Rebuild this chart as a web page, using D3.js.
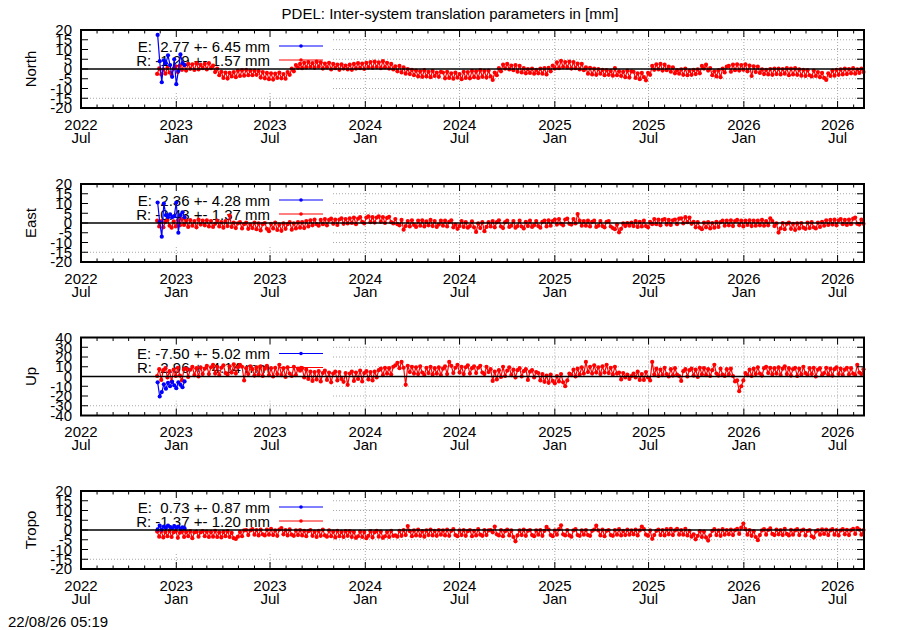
<!DOCTYPE html>
<meta charset="utf-8">

<!-- Load d3.js -->
<script src="https://d3js.org/d3.v7.min.js"></script>

<style>
  body { margin: 0; background: #fff; }
  svg text { font-family: "Liberation Sans", Arial, sans-serif; font-size: 15px; fill: #000; white-space: pre; }
</style>

<div id="my_dataviz"></div>

<script>
    // red series (R): one value every 4 days from redStart
    var redStart = new Date(2022, 10, 25);
    var blueStart = new Date(2022, 10, 26);
    var stepDays = 4;

    var northRed = [
      -2.5,0.3,-2.8,-0.2,-2.4,0.6,-1.8,-3.0,0.2,1.4,-1.6,1.8,-0.4,2.2,-0.8,2.6,0.1,2.4,-0.5,3.0,-0.2,2.1,0.4,
      2.6,-0.2,3.0,0.4,1.8,-1.6,0.2,-3.2,-1.4,-4.6,-1.8,-4.9,-2.0,-3.8,-1.6,-4.2,-0.8,-3.6,-0.6,-3.4,-0.4,-3.2,-0.8,
      -3.2,-0.8,-3.0,-1.0,-4.4,-1.6,-4.8,-2.0,-5.2,-2.2,-5.4,-2.4,-4.6,-1.8,-4.8,-2.6,-5.0,-1.6,-3.0,0.2,-1.2,2.0,0.6,
      2.6,0.4,3.2,0.8,3.6,1.0,3.0,0.6,3.8,1.2,3.4,0.2,2.8,0.8,3.2,-0.2,2.6,0.4,2.2,-0.4,2.4,0.2,1.8,
      -0.2,2.2,-0.4,2.6,0.2,3.0,0.4,2.8,0.0,3.2,0.8,3.6,0.6,3.8,1.0,3.4,0.4,4.0,0.8,3.2,0.2,2.6,-0.2,
      1.4,-1.2,1.6,-1.8,0.8,-2.4,0.0,-2.6,-0.4,-3.2,-0.8,-3.8,-1.2,-4.0,-0.6,-3.8,-1.4,-4.2,-1.0,-3.6,-1.8,-4.0,-1.4,
      -1.8,-4.8,-1.4,-4.6,-2.2,-5.0,-1.8,-4.4,-2.6,-5.2,-1.4,-4.6,-1.6,-4.8,-1.0,-4.2,-1.2,-4.6,-0.6,-4.0,-1.0,-4.4,-0.8,
      -3.8,-5.6,-1.8,-3.2,0.4,-1.2,2.2,0.2,2.6,-0.2,1.8,-0.6,2.0,-1.4,1.6,-1.8,0.4,-2.2,0.0,-2.0,0.2,-2.4,-0.4,
      -2.2,0.2,-2.4,0.4,-2.8,0.6,-1.2,1.8,0.2,3.4,0.4,4.2,1.0,3.6,0.8,3.8,0.2,3.6,0.4,2.8,-0.2,2.6,-0.6,
      0.8,-2.4,0.6,-2.8,0.2,-3.0,0.0,-2.4,-0.4,-3.2,-0.6,-3.0,-1.0,-3.4,0.4,-3.2,-1.2,-3.6,-1.4,-4.2,-0.8,-4.4,-1.2,
      -1.4,-4.6,-2.2,-5.2,-2.0,-4.2,-5.8,-2.0,-3.0,1.6,-0.4,2.4,-0.2,2.6,-0.8,2.2,-0.6,1.2,-1.4,0.8,-2.2,-0.6,-2.4,
      -0.2,-3.0,0.2,-3.2,-0.8,-3.0,-0.4,-2.6,-0.2,-2.2,1.6,0.2,2.2,-0.8,0.4,-3.2,-1.2,-3.8,-0.6,-4.2,0.2,-1.8,1.2,
      1.6,-1.4,2.2,-0.6,2.4,-0.8,2.0,-0.4,2.4,-1.2,1.8,-3.6,1.4,-1.6,1.2,-2.0,-0.2,-2.6,-0.4,-2.8,0.0,-3.0,0.2,
      -2.6,0.2,-2.8,0.0,-2.4,0.4,-3.2,0.2,-2.8,0.4,-3.0,-0.2,-3.4,-0.4,-3.6,-0.6,-3.2,-3.8,-0.8,-3.6,-1.6,-4.2,-2.0,
      -4.6,-5.6,-2.2,-3.6,-0.8,-3.4,-0.4,-3.0,-0.2,-2.8,0.2,-2.6,0.0,-2.2,0.4,-2.4,-0.2,-2.0,0.2,-1.6
    ];

    var eastRed = [
      1.2,-1.8,1.0,-2.2,0.6,1.6,-1.4,-2.4,0.8,-1.8,1.4,-1.2,2.0,-1.0,1.2,-2.0,1.5,-1.4,1.0,-2.2,1.8,-0.8,1.2,
      -1.2,1.4,-1.8,1.0,-2.0,-0.4,1.2,-1.8,0.4,-2.4,1.0,-1.6,3.8,-2.0,0.2,-2.6,-0.2,0.4,-2.8,-0.6,0.2,-3.0,-0.8,
      -2.6,0.2,-3.2,-0.2,-3.8,-0.6,0.0,-3.0,-4.2,-0.4,-2.8,0.2,-3.6,-0.8,-4.0,-0.2,-3.0,-0.6,0.4,-3.4,-0.2,-2.8,0.4,
      -2.4,0.4,-2.6,1.0,-1.8,1.4,-1.2,1.8,-0.6,-1.4,1.6,-0.6,2.0,-1.2,1.6,2.2,-0.4,1.8,-1.0,1.8,2.4,-0.4,2.0,
      -0.2,2.4,0.0,2.8,-0.6,2.2,3.0,0.6,-0.2,2.8,3.4,0.4,3.0,0.2,2.8,3.4,0.6,3.0,0.0,2.6,3.2,0.4,-0.2,
      2.0,-0.6,-1.2,1.6,-3.4,-1.6,1.0,-1.8,1.4,-1.0,-2.0,1.2,-1.4,1.4,-1.8,0.8,-1.2,1.6,-1.6,1.0,-2.0,-0.8,1.2,
      -1.4,1.2,-1.8,0.6,1.4,-2.2,-0.8,-3.0,-1.6,1.0,-2.0,0.4,-2.4,-1.6,0.8,-2.2,-4.6,-0.2,-2.6,0.4,-4.2,-2.0,0.4,
      -1.8,1.0,-2.2,0.4,1.4,-1.8,-2.6,0.4,1.2,-2.0,-1.4,1.0,-2.4,-1.6,1.2,-1.8,-2.8,0.6,-1.6,1.2,-2.0,-1.2,1.0,
      -1.6,-2.4,0.6,1.2,-1.8,1.4,-1.4,1.0,1.8,-0.8,2.0,-0.4,-1.2,1.8,2.2,-0.4,-0.8,2.0,-0.2,4.6,1.2,-1.4,1.0,
      -1.4,1.2,-1.8,0.6,1.2,-2.0,-1.4,1.0,-1.6,-2.2,0.6,1.0,-1.8,-2.6,-3.2,-0.8,-4.8,-3.0,-0.2,-1.6,0.0,-1.4,0.2,
      -1.6,1.0,-2.0,0.6,-1.8,1.2,-1.6,-2.2,0.6,-0.6,2.0,-0.6,1.8,-1.2,1.6,2.0,-0.8,1.6,-1.0,1.4,1.8,-0.6,2.2,
      2.4,-0.2,3.0,0.4,2.8,-0.4,0.6,-2.2,0.4,-2.4,-3.2,0.2,-2.2,0.4,-2.8,0.0,-2.4,0.6,-2.0,0.4,1.2,-1.4,1.2,
      -1.2,1.4,-1.6,1.0,1.6,-1.2,1.2,-1.8,1.2,-1.0,1.4,-1.6,1.2,-1.4,1.2,-1.2,1.6,-1.4,1.0,-1.2,2.4,1.0,-1.6,
      -0.2,-4.9,-2.8,0.0,-3.2,-0.4,0.2,-3.0,-0.4,-3.6,-0.2,-2.8,0.0,-2.4,-3.0,0.2,-2.6,0.4,-2.2,-2.8,0.2,-2.0,0.6,
      -1.4,1.4,-1.0,1.6,-0.8,1.8,-1.2,1.4,2.0,-0.6,1.6,-1.0,1.8,-0.6,2.2,2.8,-0.4,-0.8,1.8,-0.4
    ];

    var upRed = [
      0.5,7.5,-3.5,6.5,8.5,-1.0,5.5,-5.0,7.0,0.5,9.0,1.0,-4.0,7.5,8.0,-0.5,7.0,10.0,1.5,8.5,0.0,9.5,2.5,
      8.0,11.0,2.5,9.5,12.0,3.0,10.0,1.5,9.0,11.5,3.5,2.0,10.5,4.0,12.5,3.0,9.5,12.0,10.0,-4.0,8.5,2.5,10.5,
      7.5,1.0,9.5,2.0,10.5,0.5,8.0,11.0,1.5,8.5,0.0,9.0,2.5,12.0,1.5,8.5,-0.5,9.5,3.0,0.5,10.0,1.5,8.0,
      6.0,8.5,-1.0,7.0,-2.5,5.0,-4.5,4.5,-3.0,5.5,-5.0,3.5,6.0,-3.5,4.0,-6.0,3.0,5.0,-4.0,4.5,-2.5,-5.5,3.5,
      -8.5,3.0,5.0,-4.5,4.0,-2.5,6.0,-5.0,3.5,5.5,-3.0,4.5,-4.0,5.0,-1.0,6.5,8.0,1.5,9.0,3.0,8.5,2.0,10.0,
      11.5,14.0,8.5,15.0,9.0,-8.5,11.0,4.5,10.0,3.0,9.5,2.5,10.5,4.0,1.5,9.0,3.5,10.0,2.0,8.5,3.0,9.5,1.5,
      8.0,10.5,2.5,15.0,11.0,3.5,9.0,12.0,4.0,10.0,2.5,9.5,11.5,3.0,8.5,10.5,3.5,9.0,11.0,4.0,2.5,10.0,4.5,
      7.5,-4.5,5.0,-3.0,6.5,-0.5,10.0,0.5,6.0,9.5,1.5,7.0,-1.0,6.5,8.5,0.0,5.5,7.5,-3.5,5.0,6.5,-1.0,4.5,
      3.5,-4.0,2.5,-5.5,1.0,-6.5,2.0,-4.5,-7.0,0.5,-5.0,2.5,-6.0,-10.0,-4.0,3.0,1.5,7.0,0.0,8.0,2.0,9.5,3.0,
      15.0,4.5,10.0,3.0,11.5,4.0,9.5,2.5,10.5,4.0,12.0,3.5,9.0,2.0,10.0,3.0,4.0,-3.0,3.5,-1.0,2.0,-2.5,0.5,
      3.0,-1.0,5.0,-3.5,2.5,-3.5,4.5,-1.0,-4.0,15.0,2.0,8.0,0.5,7.0,1.5,9.0,2.5,0.0,7.5,1.0,8.5,2.0,0.5,
      -4.5,5.5,7.5,0.0,6.5,8.0,1.0,7.0,-0.5,9.0,2.0,8.5,1.5,7.5,0.5,6.5,12.0,3.0,1.0,8.0,2.0,0.5,7.5,
      2.0,8.0,0.5,-5.0,-4.0,-15.0,-10.0,-4.0,3.5,1.5,7.0,0.5,8.0,2.5,9.5,3.0,1.0,8.5,10.0,3.5,9.0,2.0,8.5,
      3.0,9.5,1.5,8.0,10.5,2.5,8.5,1.0,7.5,9.0,0.5,8.0,2.0,10.0,3.5,1.5,8.5,2.5,9.0,0.0,7.0,8.5,1.5,
      3.5,9.0,2.0,8.0,1.0,7.5,9.5,2.5,8.0,1.5,7.0,9.0,2.0,8.5,3.0,1.5,12.0,4.0,2.5,7.5
    ];

    var tropoRed = [
      -0.8,-3.4,-0.6,-3.8,-1.0,-3.2,-0.4,-3.6,-1.2,-0.6,-4.0,-1.4,-0.8,-3.6,-1.0,-3.2,-0.6,-4.2,-1.2,-0.8,-3.4,-1.2,-0.6,
      -3.2,-0.8,-3.6,-1.0,-3.4,-0.4,-3.6,-1.2,-3.8,-1.0,-3.2,-0.6,-3.6,-1.4,-4.2,-4.6,-3.4,-1.0,-3.2,-0.2,0.0,-2.6,-0.2,
      0.4,-2.4,0.0,-2.8,0.2,-2.2,-2.8,0.2,-2.4,0.6,-2.6,-0.2,-3.0,0.2,1.0,-2.2,-0.1,-2.8,0.3,-2.4,-3.0,-0.2,-2.6,
      0.0,-2.8,-0.4,-3.2,-0.6,0.0,-3.0,-0.8,-3.6,-0.4,-3.0,0.2,-2.8,-3.4,-0.2,-3.2,-0.8,-3.8,-0.4,-3.2,-1.0,-3.6,-0.6,
      -3.0,-0.6,-3.6,-1.0,-4.0,-3.2,-0.8,-3.6,-1.0,-4.2,-3.0,-0.6,-3.8,-1.2,-0.4,-3.4,-0.8,-4.0,-3.2,-1.0,-3.6,-0.4,-3.0,
      -2.8,-3.4,-0.4,-3.0,0.0,-2.6,2.0,-0.6,-3.2,-0.2,-2.8,0.2,-3.0,-0.6,-3.4,-0.2,-2.6,0.2,-2.8,-0.4,-3.0,0.0,-2.4,
      -0.2,-2.8,0.2,-3.0,-0.4,0.4,-2.6,-3.2,-0.2,-2.6,0.0,-3.0,-0.6,0.0,-3.2,-0.4,-2.8,0.4,-2.4,-3.0,0.0,-2.6,-0.2,
      0.0,-1.2,1.8,-2.2,-2.8,0.0,-3.2,-0.6,0.2,-2.8,-0.2,-3.6,-5.8,-2.8,-0.2,-2.6,0.2,-3.0,-0.4,0.0,-2.6,-3.2,-0.2,
      -2.4,0.0,-3.0,-0.4,1.6,0.2,-2.6,-3.2,-0.2,-2.4,0.4,2.4,-2.2,-2.8,0.0,-2.8,-3.4,-0.2,0.4,-2.6,-3.0,-0.2,-2.4,
      0.0,-2.6,-3.0,-0.4,0.2,2.2,-0.2,-2.8,0.2,-3.2,-0.4,0.0,-2.6,-3.0,0.0,-2.4,0.4,-2.8,-0.4,-2.6,0.2,-2.4,-0.2,
      -2.2,0.2,-2.8,-0.2,1.8,0.4,-2.4,-3.0,-0.2,-4.5,-2.6,-0.4,0.2,-2.6,0.0,-2.8,0.4,-2.2,0.6,-2.6,-0.2,0.6,-2.4,
      0.0,-2.4,0.6,-2.8,-0.4,-3.4,-2.2,-4.8,-3.0,-0.6,-3.6,-0.8,-3.8,-5.4,-2.8,-0.4,0.4,-2.6,-0.2,-3.0,0.4,-2.4,0.0,
      -2.2,0.2,-2.6,-0.1,0.6,-2.0,1.2,3.3,0.4,-2.4,0.0,-3.0,-0.6,-3.6,-5.2,-2.6,-0.2,0.4,-2.4,0.0,0.8,-2.0,-2.6,
      0.2,-2.2,-0.1,-2.6,0.6,-2.0,-2.8,0.1,-2.4,-0.2,0.4,-2.6,-0.3,0.2,-2.8,-0.4,-0.1,-3.2,-3.9,-0.8,0.0,-2.4,0.3,
      -2.0,0.2,-2.6,-0.2,0.4,-2.4,0.0,-2.8,-0.2,0.4,-2.2,0.1,-2.6,-0.1,0.6,-2.0,1.0,0.2,-2.4,0.0
    ];

    // blue series (E): one value every 4 days from blueStart
    var northBlue = [17.5, 4.0, -6.8, 4.5, 3.0, 7.0, 2.0, -4.0, 5.0, -7.8, -1.0, 7.5, 3.0, 2.0];
    var eastBlue = [10.5, 0.5, -7.0, 10.0, 4.0, 3.0, 4.5, 3.0, 3.5, 10.5, -5.0, 4.0, 5.5, 3.0];
    var upBlue = [-6.0, -20.5, -16.0, -8.0, -12.5, -6.5, -10.0, -5.5, -9.0, -12.0, -6.0, -8.5, -11.0, -5.0];
    var tropoBlue = [0.3, 2.2, 0.2, 1.8, 1.0, 2.3, 1.5, 0.9, 2.0, 1.2, 1.8, 0.6, 1.4, 0.8];

    var panelNames = ["North", "East", "Up", "Tropo"];
    var panelRed = [northRed, eastRed, upRed, tropoRed];
    var panelBlue = [northBlue, eastBlue, upBlue, tropoBlue];
    var panelRange = [20, 20, 40, 20];
    var panelStep = [5, 5, 10, 5];
    var keyE = ["E:  2.77 +- 6.45 mm", "E:  2.36 +- 4.28 mm", "E: -7.50 +- 5.02 mm", "E:  0.73 +- 0.87 mm"];
    var keyR = ["R: -1.29 +- 1.57 mm", "R: -0.43 +- 1.37 mm", "R:  2.96 +- 4.14 mm", "R: -1.37 +- 1.20 mm"];

    var titleText = "PDEL: Inter-system translation parameters in [mm]";
    var stampText = "22/08/26 05:19";

    // dimensions
    var W = 900, H = 630;
    var left = 81, right = 864, panelH = 78;
    var panelTop = [30, 184, 337.5, 491];

    var svg = d3.select("#my_dataviz")
      .append("svg")
        .attr("width", W)
        .attr("height", H);

    var x = d3.scaleTime()
        .domain([new Date(2022, 6, 1), new Date(2026, 7, 21)])
        .range([left, right]);

    var majorTicks = d3.timeMonth.every(6).range(new Date(2022, 6, 1), new Date(2026, 7, 22));
    var minorTicks = d3.timeMonth.range(new Date(2022, 6, 1), new Date(2026, 7, 22));

    function toDates(start, values) {
      return values.map(function(v, i) { return { date: d3.timeDay.offset(start, i * stepDays), v: v }; });
    }

    svg.append("text")
        .attr("x", W / 2)
        .attr("y", 19)
        .attr("text-anchor", "middle")
        .text(titleText);

    svg.append("text")
        .attr("x", 8)
        .attr("y", 627)
        .text(stampText);

    panelNames.forEach(function(name, p) {
      var top = panelTop[p], bottom = top + panelH;
      var y = d3.scaleLinear()
          .domain([-panelRange[p], panelRange[p]])
          .range([bottom, top]);
      var yTicks = d3.range(-panelRange[p], panelRange[p] + 0.001, panelStep[p]);
      var g = svg.append("g");

      // dotted grid
      g.selectAll(".hgrid")
        .data(yTicks.filter(function(d) { return d != 0 && Math.abs(d) != panelRange[p]; }))
        .enter().append("line")
          .attr("x1", left).attr("x2", right)
          .attr("y1", function(d) { return y(d); })
          .attr("y2", function(d) { return y(d); })
          .attr("stroke", "#a8a8a8")
          .attr("stroke-width", 1)
          .attr("stroke-dasharray", "1,2");

      g.selectAll(".vgrid")
        .data(majorTicks.filter(function(d) { return x(d) > left + 1; }))
        .enter().append("line")
          .attr("x1", function(d) { return x(d); })
          .attr("x2", function(d) { return x(d); })
          .attr("y1", top).attr("y2", bottom)
          .attr("stroke", "#a8a8a8")
          .attr("stroke-width", 1)
          .attr("stroke-dasharray", "1,2");

      // key box
      g.append("rect")
          .attr("x", left + 1).attr("y", top + 1)
          .attr("width", 250).attr("height", 62)
          .attr("fill", "#fff");

      var keyRows = [[keyE[p], "#0000ff", 16], [keyR[p], "#ff0000", 30]];
      keyRows.forEach(function(k) {
        g.append("text")
            .attr("x", 270)
            .attr("y", top + k[2] + 5.5)
            .attr("text-anchor", "end")
            .attr("xml:space", "preserve")
            .text(k[0]);
        g.append("line")
            .attr("x1", 279).attr("x2", 323)
            .attr("y1", top + k[2]).attr("y2", top + k[2])
            .attr("stroke", k[1]).attr("stroke-width", 1);
        g.append("circle")
            .attr("cx", 301).attr("cy", top + k[2])
            .attr("r", 1.8).attr("fill", k[1]);
      });

      // series
      var line = d3.line()
          .x(function(d) { return x(d.date); })
          .y(function(d) { return y(d.v); });

      [[toDates(redStart, panelRed[p]), "#ff0000"], [toDates(blueStart, panelBlue[p]), "#0000ff"]].forEach(function(s) {
        g.append("path")
            .datum(s[0])
            .attr("d", line)
            .attr("fill", "none")
            .attr("stroke", s[1])
            .attr("stroke-width", 1.2);
        g.selectAll(null)
            .data(s[0])
            .enter().append("circle")
              .attr("cx", function(d) { return x(d.date); })
              .attr("cy", function(d) { return y(d.v); })
              .attr("r", 2.1)
              .attr("fill", s[1]);
      });

      // zero line
      g.append("line")
          .attr("x1", left).attr("x2", right)
          .attr("y1", y(0)).attr("y2", y(0))
          .attr("stroke", "#000").attr("stroke-width", 1.4);

      // border
      g.append("rect")
          .attr("x", left).attr("y", top)
          .attr("width", right - left).attr("height", panelH)
          .attr("fill", "none")
          .attr("stroke", "#000").attr("stroke-width", 2);

      // y ticks, both sides
      yTicks.forEach(function(t) {
        g.append("line").attr("x1", left).attr("x2", left + 7)
            .attr("y1", y(t)).attr("y2", y(t)).attr("stroke", "#000");
        g.append("line").attr("x1", right - 7).attr("x2", right)
            .attr("y1", y(t)).attr("y2", y(t)).attr("stroke", "#000");
        g.append("text")
            .attr("x", 72).attr("y", y(t))
            .attr("dy", "0.36em")
            .attr("text-anchor", "end")
            .text(t);
      });

      // x ticks, top and bottom
      minorTicks.forEach(function(t) {
        var len = t.getMonth() % 6 == 0 ? 7 : 3.5;
        g.append("line").attr("x1", x(t)).attr("x2", x(t))
            .attr("y1", bottom).attr("y2", bottom - len).attr("stroke", "#000");
        g.append("line").attr("x1", x(t)).attr("x2", x(t))
            .attr("y1", top).attr("y2", top + len).attr("stroke", "#000");
      });

      var fmtYear = d3.timeFormat("%Y"), fmtMonth = d3.timeFormat("%b");
      majorTicks.forEach(function(t) {
        g.append("text").attr("x", x(t)).attr("y", bottom + 21.5)
            .attr("text-anchor", "middle").text(fmtYear(t));
        g.append("text").attr("x", x(t)).attr("y", bottom + 34.5)
            .attr("text-anchor", "middle").text(fmtMonth(t));
      });

      // y axis label
      g.append("text")
          .attr("transform", "translate(36," + (top + panelH / 2) + ")rotate(-90)")
          .attr("text-anchor", "middle")
          .text(name);
    });
</script>
